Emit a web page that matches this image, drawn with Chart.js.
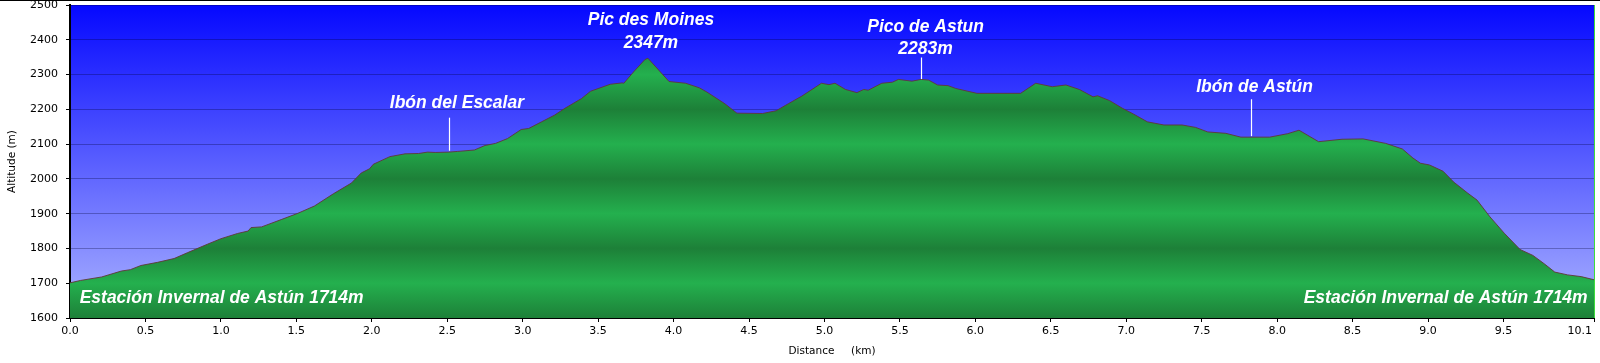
<!DOCTYPE html>
<html>
<head>
<meta charset="utf-8">
<script src="https://cdn.jsdelivr.net/npm/chart.js@4/dist/chart.umd.min.js"></script>
<style>
  html, body { margin: 0; padding: 0; background: #fff; }
  canvas { display: block; }
</style>
</head>
<body>
<canvas id="c" width="1600" height="363"></canvas>
<script>
// ---- data ----
const distanceKm = [0.00,0.07,0.21,0.34,0.40,0.47,0.58,0.69,0.78,0.91,1.00,1.11,1.18,1.20,1.27,1.40,1.51,1.62,1.745,1.865,1.93,1.985,2.01,2.12,2.22,2.31,2.37,2.42,2.51,2.57,2.68,2.75,2.82,2.90,2.99,3.04,3.125,3.21,3.28,3.39,3.45,3.58,3.66,3.67,3.74,3.81,3.83,3.97,4.08,4.17,4.22,4.34,4.42,4.59,4.68,4.76,4.85,4.98,5.03,5.07,5.14,5.215,5.26,5.29,5.38,5.45,5.49,5.58,5.64,5.69,5.75,5.82,5.87,6.01,6.30,6.40,6.51,6.60,6.69,6.78,6.81,6.89,6.975,7.05,7.14,7.25,7.37,7.46,7.54,7.66,7.76,7.95,8.07,8.145,8.275,8.43,8.57,8.72,8.83,8.90,8.95,9.01,9.10,9.17,9.26,9.325,9.41,9.505,9.61,9.695,9.77,9.84,9.925,10.015,10.10];
const altitudeM = [1701,1708,1718,1735,1739,1751,1760,1771,1788,1812,1828,1843,1850,1860,1862,1883,1901,1922,1957,1988,2017,2029,2042,2064,2072,2073,2077,2076,2077,2079,2083,2096,2102,2116,2142,2145,2164,2183,2203,2231,2252,2272,2276,2275,2310,2343,2347,2280,2275,2262,2250,2216,2189,2188,2196,2216,2238,2275,2271,2275,2257,2248,2257,2255,2275,2278,2286,2281,2286,2284,2270,2268,2260,2246,2246,2275,2265,2270,2257,2236,2239,2225,2203,2186,2164,2155,2155,2148,2135,2131,2120,2120,2130,2140,2107,2114,2115,2102,2086,2060,2045,2040,2022,1991,1960,1939,1891,1844,1797,1780,1756,1732,1724,1719,1710];
const xTickValues = [0,0.5,1,1.5,2,2.5,3,3.5,4,4.5,5,5.5,6,6.5,7,7.5,8,8.5,9,9.5,10.1];
const yMin = 1600, yMax = 2500, yStep = 100;
const xMin = 0, xMax = 10.1;

// annotation texts and anchors (data units)
const peakTexts = [
  { lines: ['Pic des Moines', '2347m'], x: 3.85, ys: [2455, 2390] },
  { lines: ['Pico de Astun', '2283m'], x: 5.67, ys: [2437, 2373], mx: 5.643, mTop: 2349, mBottom: 2287 },
  { lines: ['Ibón del Escalar'], x: 2.564, ys: [2217], mx: 2.51, mTop: 2176, mBottom: 2081 },
  { lines: ['Ibón de Astún'], x: 7.85, ys: [2263], mx: 7.826, mTop: 2229, mBottom: 2123 }
];
const baseTexts = [
  { text: 'Estación Invernal de Astún 1714m', x: 0.064, y: 1657, align: 'left' },
  { text: 'Estación Invernal de Astún 1714m', x: 10.058, y: 1657, align: 'right' }
];

if (distanceKm.length !== altitudeM.length) throw new Error('length mismatch ' + distanceKm.length + ' vs ' + altitudeM.length);

const points = distanceKm.map((d, i) => ({ x: d, y: altitudeM[i] }));
const annFont = 'italic bold 17.5px "Liberation Sans", Arial, sans-serif';
const tickFont = { family: '"DejaVu Sans", Verdana, sans-serif', size: 11 };
const titleFont = { family: '"DejaVu Sans", Verdana, sans-serif', size: 10.5 };

const bgPlugin = {
  id: 'bg',
  beforeDraw(chart) {
    const { ctx, chartArea } = chart;
    if (!chartArea) return;
    const { left, top, right, bottom } = chartArea;
    ctx.save();
    ctx.fillStyle = '#fff';
    ctx.fillRect(0, 0, chart.width, chart.height);
    const g = ctx.createLinearGradient(0, top, 0, bottom);
    g.addColorStop(0, 'rgb(5,8,255)');
    g.addColorStop(1, 'rgb(172,180,255)');
    ctx.fillStyle = g;
    ctx.fillRect(left, top, right - left, bottom - top);
    ctx.restore();
  }
};

const annPlugin = {
  id: 'ann',
  afterDraw(chart) {
    const { ctx, chartArea, scales } = chart;
    const xs = scales.x, ys = scales.y;
    ctx.save();
    ctx.strokeStyle = '#000';
    ctx.lineWidth = 1;
    ctx.beginPath(); ctx.moveTo(0, 0.5); ctx.lineTo(chart.width, 0.5); ctx.stroke();
    ctx.strokeStyle = 'rgb(60,220,60)';
    ctx.beginPath(); ctx.moveTo(chartArea.right + 0.5, chartArea.top); ctx.lineTo(chartArea.right + 0.5, chartArea.bottom); ctx.stroke();
    ctx.strokeStyle = '#fff';
    ctx.lineWidth = 1.2;
    peakTexts.forEach(p => {
      if (p.mx === undefined) return;
      const px = Math.round(xs.getPixelForValue(p.mx)) + 0.5;
      ctx.beginPath();
      ctx.moveTo(px, ys.getPixelForValue(p.mTop));
      ctx.lineTo(px, ys.getPixelForValue(p.mBottom));
      ctx.stroke();
    });
    ctx.fillStyle = '#fff';
    ctx.font = annFont;
    ctx.textBaseline = 'middle';
    ctx.textAlign = 'center';
    peakTexts.forEach(p => {
      p.lines.forEach((t, i) => {
        ctx.fillText(t, xs.getPixelForValue(p.x), ys.getPixelForValue(p.ys[i]));
      });
    });
    baseTexts.forEach(b => {
      ctx.textAlign = b.align;
      ctx.fillText(b.text, xs.getPixelForValue(b.x), ys.getPixelForValue(b.y));
    });
    ctx.fillStyle = '#000';
    ctx.font = tickFont.size + 'px ' + tickFont.family;
    ctx.textAlign = 'right';
    ctx.textBaseline = 'top';
    const last = xTickValues[xTickValues.length - 1];
    ctx.fillText(last.toFixed(1), xs.getPixelForValue(last) - 2, chartArea.bottom + 8);
    ctx.restore();
  }
};

function greenFill(context) {
  const chart = context.chart;
  const { chartArea, scales } = chart;
  if (!chartArea) return 'rgb(34,170,75)';
  const g = chart.ctx.createLinearGradient(0, chartArea.top, 0, chartArea.bottom);
  const h = chartArea.bottom - chartArea.top;
  for (let v = yMax; v >= yMin; v -= yStep) {
    const pos = (scales.y.getPixelForValue(v) - chartArea.top) / h;
    const light = (Math.round(v / yStep) % 2) === 1;
    g.addColorStop(Math.min(1, Math.max(0, pos)), light ? 'rgb(36,176,78)' : 'rgb(29,128,56)');
  }
  return g;
}

new Chart(document.getElementById('c'), {
  type: 'line',
  data: {
    datasets: [{
      data: points,
      fill: 'start',
      backgroundColor: greenFill,
      borderColor: 'rgba(95,55,55,0.9)',
      borderWidth: 1,
      pointRadius: 0,
      tension: 0
    }]
  },
  options: {
    responsive: false,
    animation: false,
    devicePixelRatio: 1,
    parsing: false,
    layout: { padding: { left: 0, right: 6, top: 5, bottom: 0 } },
    plugins: { legend: { display: false }, tooltip: { enabled: false } },
    scales: {
      x: {
        type: 'linear',
        min: xMin, max: xMax,
        z: 1,
        afterBuildTicks: s => { s.ticks = xTickValues.map(v => ({ value: v })); },
        afterFit: s => { s.height = 45; s.paddingLeft = 0; s.paddingRight = 0; },
        grid: { drawOnChartArea: false, drawTicks: true, tickLength: 4, tickColor: '#000', tickWidth: 1 },
        border: { display: true, color: '#000', width: 2 },
        ticks: {
          autoSkip: false, maxRotation: 0, padding: 3, color: '#000', font: tickFont,
          callback: (v) => (v === xTickValues[xTickValues.length - 1] ? '' : Number(v).toFixed(1))
        },
        title: { display: true, text: 'Distance     (km)', color: '#000', font: titleFont, padding: { top: 2, bottom: 5 } }
      },
      y: {
        type: 'linear',
        min: yMin, max: yMax,
        z: 1,
        afterFit: s => { s.width = 70; s.paddingTop = 0; s.paddingBottom = 0; },
        grid: { color: 'rgba(0,0,50,0.3)', lineWidth: 1, drawTicks: true, tickLength: 4, tickColor: '#000', tickWidth: 1 },
        border: { display: true, color: '#000', width: 2 },
        ticks: { stepSize: yStep, padding: 8, color: '#000', font: tickFont, callback: v => String(v) },
        title: { display: true, text: 'Altitude (m)', color: '#000', font: titleFont, padding: { top: 6, bottom: 0 } }
      }
    }
  },
  plugins: [bgPlugin, annPlugin]
});
</script>
</body>
</html>
